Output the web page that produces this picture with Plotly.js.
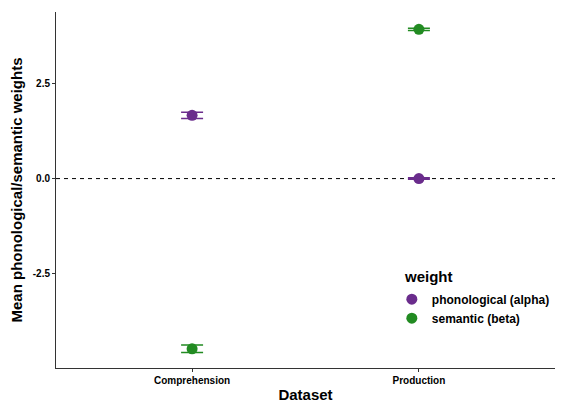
<!DOCTYPE html>
<html><head><meta charset="utf-8">
<script src="https://cdn.plot.ly/plotly-3.0.1.min.js"></script>
<style>html,body{margin:0;padding:0;background:#fff}#chart{width:568px;height:403px}</style>
</head><body><div id="chart"></div>
<script>
var datasets = ["Comprehension", "Production"];
var phonoMean = [1.66, 0.0];
var phonoErr = [0.08, 0.02];
var semMean = [-4.47, 3.92];
var semErr = [0.1, 0.03];
var seriesNames = ["phonological (alpha)", "semantic (beta)"];
var colors = ["#6A2C8C", "#228B22"];

function trace(i, y, e) {
  return {
    x: [0, 1], y: y, type: 'scatter', mode: 'markers', name: seriesNames[i],
    marker: {color: colors[i], size: 11},
    error_y: {type: 'data', array: e, visible: true, color: colors[i], thickness: 1.5, width: 11},
    showlegend: true
  };
}
var data = [trace(0, phonoMean, phonoErr), trace(1, semMean, semErr)];
var font = "Liberation Sans, Arial, sans-serif";
var layout = {
  width: 568, height: 403,
  margin: {l: 56, r: 13, t: 12, b: 35, autoexpand: false},
  paper_bgcolor: '#fff', plot_bgcolor: '#fff',
  font: {family: font, color: '#000'},
  showlegend: true,
  xaxis: {
    range: [-0.6, 1.6], tickvals: [0, 1], ticktext: datasets,
    showgrid: false, zeroline: false, showline: true, linecolor: '#333', linewidth: 1,
    ticks: 'outside', ticklen: 3, tickcolor: '#333',
    tickfont: {family: font, size: 10, color: '#000', weight: 'bold'},
    title: {text: 'Dataset', font: {family: font, size: 15, weight: 'bold', color: '#000'}, standoff: 4}
  },
  yaxis: {
    range: [-4.975, 4.375], tickvals: [-2.5, 0, 2.5], ticktext: ['-2.5', '0.0', '2.5'],
    showgrid: false, zeroline: false, showline: true, linecolor: '#333', linewidth: 1,
    ticks: 'outside', ticklen: 3, tickcolor: '#333',
    tickfont: {family: font, size: 10, color: '#000', weight: 'bold'},
    title: {text: 'Mean phonological/semantic weights', font: {family: font, size: 15, weight: 'bold', color: '#000'}, standoff: 6}
  },
  shapes: [{type: 'line', xref: 'paper', x0: 0, x1: 1, yref: 'y', y0: 0, y1: 0,
    line: {color: '#000', width: 1, dash: '4px,4px'}, layer: 'below'}],
  annotations: [{text: 'weight', xref: 'paper', yref: 'paper', x: (402 - 56) / 499, y: (368 - 276) / 356,
    xanchor: 'left', yanchor: 'middle', showarrow: false,
    font: {family: font, size: 15, weight: 'bold', color: '#000'}}],
  legend: {
    x: 0.673, y: 0.234, xanchor: 'left', yanchor: 'top', bgcolor: 'rgba(0,0,0,0)',
    font: {family: font, size: 12, weight: 'bold', color: '#000'},
    tracegroupgap: 0, itemwidth: 30
  }
};
Plotly.newPlot('chart', data, layout, {displayModeBar: false, staticPlot: true});
</script></body></html>
